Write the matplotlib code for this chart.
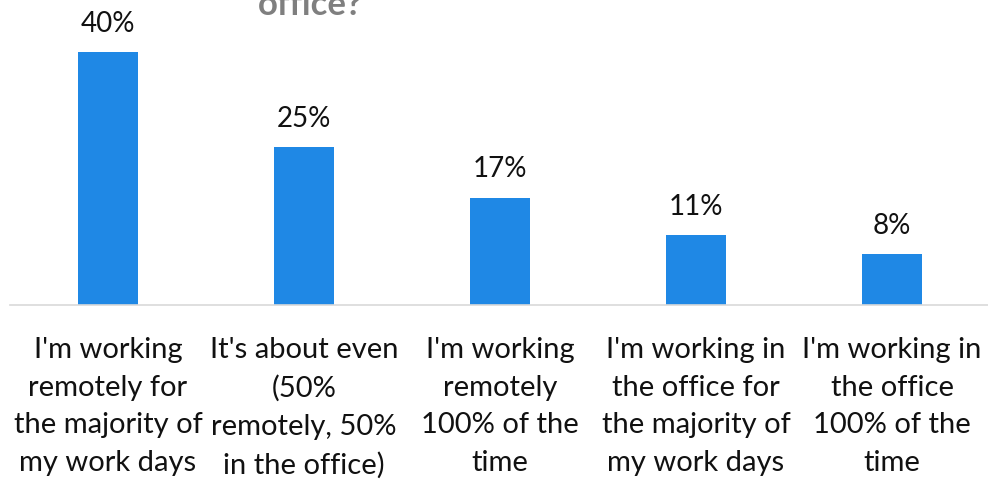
import matplotlib
matplotlib.use('Agg')
import matplotlib.pyplot as plt

categories = ["I'm working\nremotely for\nthe majority of\nmy work days",
              "It's about even\n(50%\nremotely, 50%\nin the office)",
              "I'm working\nremotely\n100% of the\ntime",
              "I'm working in\nthe office for\nthe majority of\nmy work days",
              "I'm working in\nthe office\n100% of the\ntime"]
values = [40, 25, 17, 11, 8]

plt.rcParams['font.family'] = ['Lato', 'DejaVu Sans']

fig = plt.figure(figsize=(9.88, 4.79), dpi=100)
ax = fig.add_axes([10 / 988, 174 / 479, 980 / 988, 304 / 479])

x = list(range(len(values)))
bars = ax.bar(x, values, width=0.31, color='#1f88e5')

for xi, v in zip(x, values):
    ax.annotate('%d%%' % v, (xi, v), xytext=(0, 11), textcoords='offset points',
                ha='center', va='bottom', fontsize=20, color='#111111')

ax.set_xlim(-0.5, 4.5)
ax.set_ylim(0, 48.1)
ax.set_xticks(x)
ax.set_xticklabels(categories, fontsize=21, linespacing=1.56, color='#111111')
ax.tick_params(axis='x', length=0, pad=23)
ax.set_yticks([])
for s in ['top', 'left', 'right']:
    ax.spines[s].set_visible(False)
ax.spines['bottom'].set_color('#d9d9d9')
ax.spines['bottom'].set_linewidth(1.2)

fig.text(310 / 988, 1 - 15 / 479, 'office?', ha='center', va='baseline',
         fontsize=25, fontweight='bold', color='#7f7f7f')

fig.savefig('out.png', dpi=100)
